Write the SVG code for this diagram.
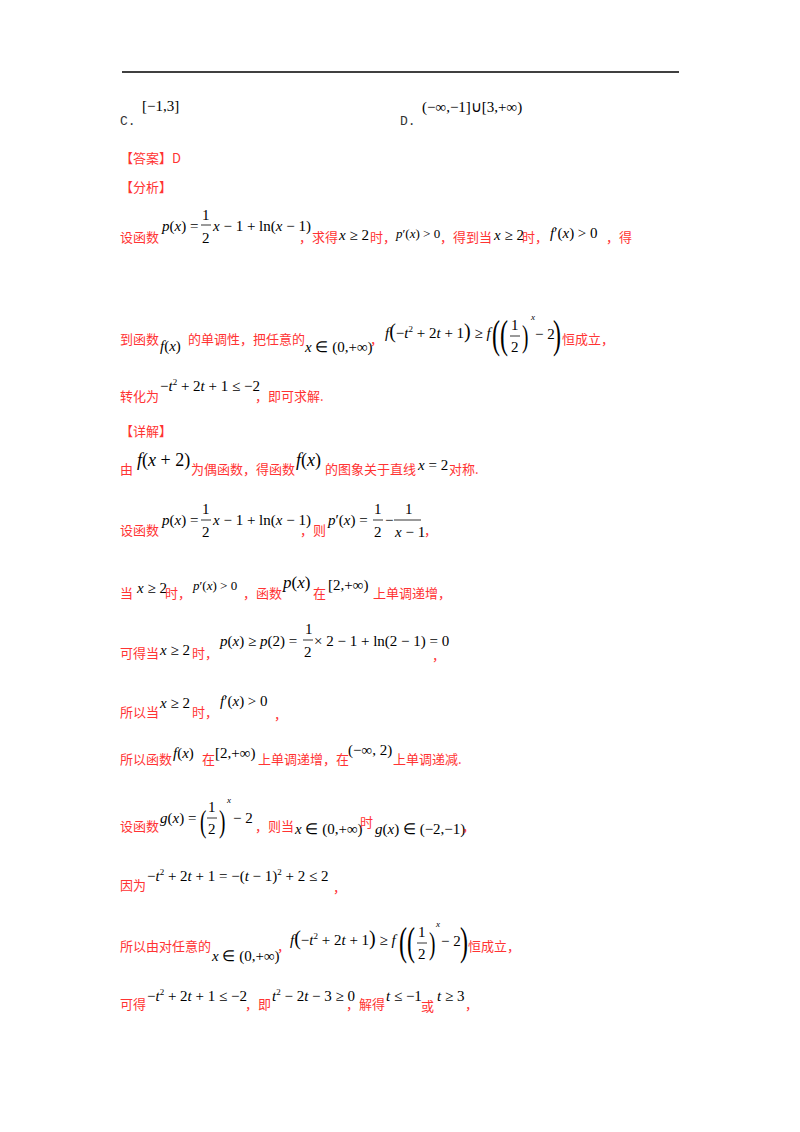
<svg xmlns="http://www.w3.org/2000/svg" width="800" height="1132" viewBox="0 0 800 1132">
<style>
.r{fill:#f33;font-family:"Noto Sans CJK SC",sans-serif;font-size:13px}
.m{fill:#000;font-family:"Liberation Serif",serif;font-size:15px}
.i{font-style:italic}
.g{fill:#333;font-family:"Liberation Mono",monospace;font-size:13px}
.s{font-size:9px}
line.f{stroke:#000;stroke-width:0.8}
</style>
<rect width="800" height="1132" fill="#fff"/>
<line x1="122" y1="72" x2="679" y2="72" stroke="#000" stroke-width="1.5"/>
<text class="g" x="120" y="125">C.</text>
<text class="m" x="142" y="111">[−1,3]</text>
<text class="g" x="400" y="125">D.</text>
<text class="m" x="422" y="112">(−∞,−1]∪[3,+∞)</text>
<text class="r" x="120" y="163">【答案】D</text>
<text class="r" x="120" y="192">【分析】</text>

<text class="r" x="120" y="242">设函数</text>
<text class="m" x="162" y="231"><tspan class="i">p</tspan>(<tspan class="i">x</tspan>) =</text>
<text class="m" x="202" y="220">1</text><line class="f" x1="201" y1="225" x2="211" y2="225"/><text class="m" x="202" y="243">2</text>
<text class="m" x="213" y="231"><tspan class="i">x</tspan> − 1 + ln(<tspan class="i">x</tspan> − 1)</text>
<text class="r" x="299" y="242">，求得</text>
<text class="m" x="339" y="240"><tspan class="i">x</tspan> ≥ 2</text>
<text class="r" x="370" y="242">时，</text>
<text class="m" x="396" y="238" style="font-size:13px"><tspan class="i">p</tspan>′(<tspan class="i">x</tspan>) &gt; 0</text>
<text class="r" x="440" y="242">，得到当</text>
<text class="m" x="494" y="240"><tspan class="i">x</tspan> ≥ 2</text>
<text class="r" x="522" y="242">时，</text>
<text class="m" x="550" y="238"><tspan class="i">f</tspan>′(<tspan class="i">x</tspan>) &gt; 0</text>
<text class="r" x="606" y="242">，得</text>

<text class="r" x="120" y="344">到函数</text>
<text class="m" x="160" y="351"><tspan class="i">f</tspan>(<tspan class="i">x</tspan>)</text>
<text class="r" x="188" y="344">的单调性，把任意的</text>
<text class="m" x="305" y="352"><tspan class="i">x</tspan> ∈ (0,+∞)</text>
<text class="r" x="370" y="344">，</text>
<text class="m" x="385" y="338"><tspan class="i">f</tspan><tspan style="font-size:20px">(</tspan>−<tspan class="i">t</tspan><tspan class="s" dy="-6">2</tspan><tspan dy="6"> + 2</tspan><tspan class="i">t</tspan> + 1<tspan style="font-size:20px">)</tspan> ≥ <tspan class="i">f</tspan></text>
<text class="m" x="492" y="348" style="font-size:40px" transform="translate(492 348) scale(0.6 1) translate(-492 -348)">((</text>
<text class="m" x="511" y="330">1</text><line class="f" x1="510" y1="336" x2="520" y2="336"/><text class="m" x="511" y="352">2</text>
<text class="m" x="522" y="347" style="font-size:32px" transform="translate(522 347) scale(0.6 1) translate(-522 -347)">)</text>
<text class="m s i" x="531" y="320">x</text>
<text class="m" x="535" y="339">− 2</text>
<text class="m" x="553" y="348" style="font-size:40px" transform="translate(553 348) scale(0.6 1) translate(-553 -348)">)</text>
<text class="r" x="562" y="344">恒成立，</text>

<text class="r" x="120" y="401">转化为</text>
<text class="m" x="160" y="391">−<tspan class="i">t</tspan><tspan class="s" dy="-6">2</tspan><tspan dy="6"> + 2</tspan><tspan class="i">t</tspan> + 1 ≤ −2</text>
<text class="r" x="255" y="401">，即可求解.</text>

<text class="r" x="120" y="436">【详解】</text>

<text class="r" x="120" y="474">由</text>
<text class="m" x="137" y="466" style="font-size:18px"><tspan class="i">f</tspan>(<tspan class="i">x</tspan> + 2)</text>
<text class="r" x="191" y="474">为偶函数，得函数</text>
<text class="m" x="296" y="466" style="font-size:18px"><tspan class="i">f</tspan>(<tspan class="i">x</tspan>)</text>
<text class="r" x="325" y="474">的图象关于直线</text>
<text class="m" x="418" y="470"><tspan class="i">x</tspan> = 2</text>
<text class="r" x="449" y="474">对称.</text>

<text class="r" x="120" y="535">设函数</text>
<text class="m" x="162" y="525"><tspan class="i">p</tspan>(<tspan class="i">x</tspan>) =</text>
<text class="m" x="202" y="514">1</text><line class="f" x1="201" y1="520" x2="211" y2="520"/><text class="m" x="202" y="537">2</text>
<text class="m" x="213" y="525"><tspan class="i">x</tspan> − 1 + ln(<tspan class="i">x</tspan> − 1)</text>
<text class="r" x="300" y="535">，则</text>
<text class="m" x="328" y="525"><tspan class="i">p</tspan>′(<tspan class="i">x</tspan>) =</text>
<text class="m" x="374" y="514">1</text><line class="f" x1="373" y1="520" x2="383" y2="520"/><text class="m" x="374" y="537">2</text>
<text class="m" x="385" y="525">−</text>
<text class="m" x="405" y="514">1</text><line class="f" x1="394" y1="520" x2="421" y2="520"/><text class="m" x="395" y="537"><tspan class="i">x</tspan> − 1</text>
<text class="r" x="424" y="535">，</text>

<text class="r" x="120" y="598">当</text>
<text class="m" x="137" y="593"><tspan class="i">x</tspan> ≥ 2</text>
<text class="r" x="165" y="598">时，</text>
<text class="m" x="193" y="590" style="font-size:13px"><tspan class="i">p</tspan>′(<tspan class="i">x</tspan>) &gt; 0</text>
<text class="r" x="243" y="598">，函数</text>
<text class="m" x="283" y="588" style="font-size:17px"><tspan class="i">p</tspan>(<tspan class="i">x</tspan>)</text>
<text class="r" x="313" y="598">在</text>
<text class="m" x="328" y="590">[2,+∞)</text>
<text class="r" x="373" y="598">上单调递增，</text>

<text class="r" x="120" y="658">可得当</text>
<text class="m" x="160" y="655"><tspan class="i">x</tspan> ≥ 2</text>
<text class="r" x="192" y="658">时，</text>
<text class="m" x="220" y="646"><tspan class="i">p</tspan>(<tspan class="i">x</tspan>) ≥ <tspan class="i">p</tspan>(2) =</text>
<text class="m" x="305" y="634">1</text><line class="f" x1="303" y1="640" x2="313" y2="640"/><text class="m" x="304" y="657">2</text>
<text class="m" x="314" y="646">× 2 − 1 + ln(2 − 1) = 0</text>
<text class="r" x="432" y="660">，</text>

<text class="r" x="120" y="717">所以当</text>
<text class="m" x="160" y="708"><tspan class="i">x</tspan> ≥ 2</text>
<text class="r" x="192" y="717">时，</text>
<text class="m" x="220" y="706"><tspan class="i">f</tspan>′(<tspan class="i">x</tspan>) &gt; 0</text>
<text class="r" x="274" y="719">，</text>

<text class="r" x="120" y="764">所以函数</text>
<text class="m" x="173" y="758"><tspan class="i">f</tspan>(<tspan class="i">x</tspan>)</text>
<text class="r" x="202" y="764">在</text>
<text class="m" x="215" y="758">[2,+∞)</text>
<text class="r" x="258" y="764">上单调递增，在</text>
<text class="m" x="348" y="755">(−∞, 2)</text>
<text class="r" x="393" y="764">上单调递减.</text>

<text class="r" x="120" y="831">设函数</text>
<text class="m" x="160" y="823"><tspan class="i">g</tspan>(<tspan class="i">x</tspan>) =</text>
<text class="m" x="200" y="832" style="font-size:32px" transform="translate(200 832) scale(0.6 1) translate(-200 -832)">(</text>
<text class="m" x="208" y="812">1</text><line class="f" x1="207" y1="818" x2="217" y2="818"/><text class="m" x="208" y="834">2</text>
<text class="m" x="219" y="832" style="font-size:32px" transform="translate(219 832) scale(0.6 1) translate(-219 -832)">)</text>
<text class="m s i" x="227" y="803">x</text>
<text class="m" x="233" y="823">− 2</text>
<text class="r" x="255" y="831">，则当</text>
<text class="m" x="295" y="834"><tspan class="i">x</tspan> ∈ (0,+∞)</text>
<text class="r" x="360" y="827">时</text>
<text class="m" x="375" y="834"><tspan class="i">g</tspan>(<tspan class="i">x</tspan>) ∈ (−2,−1)</text>
<text class="r" x="462" y="831">，</text>

<text class="r" x="120" y="890">因为</text>
<text class="m" x="147" y="881">−<tspan class="i">t</tspan><tspan class="s" dy="-6">2</tspan><tspan dy="6"> + 2</tspan><tspan class="i">t</tspan> + 1 = −(<tspan class="i">t</tspan> − 1)<tspan class="s" dy="-6">2</tspan><tspan dy="6"> + 2 ≤ 2</tspan></text>
<text class="r" x="333" y="892">，</text>

<text class="r" x="120" y="951">所以由对任意的</text>
<text class="m" x="212" y="961"><tspan class="i">x</tspan> ∈ (0,+∞)</text>
<text class="r" x="277" y="951">，</text>
<text class="m" x="290" y="945"><tspan class="i">f</tspan><tspan style="font-size:20px">(</tspan>−<tspan class="i">t</tspan><tspan class="s" dy="-6">2</tspan><tspan dy="6"> + 2</tspan><tspan class="i">t</tspan> + 1<tspan style="font-size:20px">)</tspan> ≥ <tspan class="i">f</tspan></text>
<text class="m" x="399" y="955" style="font-size:40px" transform="translate(399 955) scale(0.6 1) translate(-399 -955)">((</text>
<text class="m" x="418" y="937">1</text><line class="f" x1="417" y1="943" x2="427" y2="943"/><text class="m" x="418" y="959">2</text>
<text class="m" x="429" y="954" style="font-size:32px" transform="translate(429 954) scale(0.6 1) translate(-429 -954)">)</text>
<text class="m s i" x="436" y="927">x</text>
<text class="m" x="441" y="946">− 2</text>
<text class="m" x="460" y="955" style="font-size:40px" transform="translate(460 955) scale(0.6 1) translate(-460 -955)">)</text>
<text class="r" x="468" y="951">恒成立，</text>

<text class="r" x="120" y="1009">可得</text>
<text class="m" x="147" y="1001">−<tspan class="i">t</tspan><tspan class="s" dy="-6">2</tspan><tspan dy="6"> + 2</tspan><tspan class="i">t</tspan> + 1 ≤ −2</text>
<text class="r" x="245" y="1009">，即</text>
<text class="m" x="272" y="1001"><tspan class="i">t</tspan><tspan class="s" dy="-6">2</tspan><tspan dy="6"> − 2</tspan><tspan class="i">t</tspan> − 3 ≥ 0</text>
<text class="r" x="346" y="1009">，解得</text>
<text class="m" x="386" y="1001"><tspan class="i">t</tspan> ≤ −1</text>
<text class="r" x="421" y="1011">或</text>
<text class="m" x="437" y="1001"><tspan class="i">t</tspan> ≥ 3</text>
<text class="r" x="465" y="1009">，</text>
</svg>
